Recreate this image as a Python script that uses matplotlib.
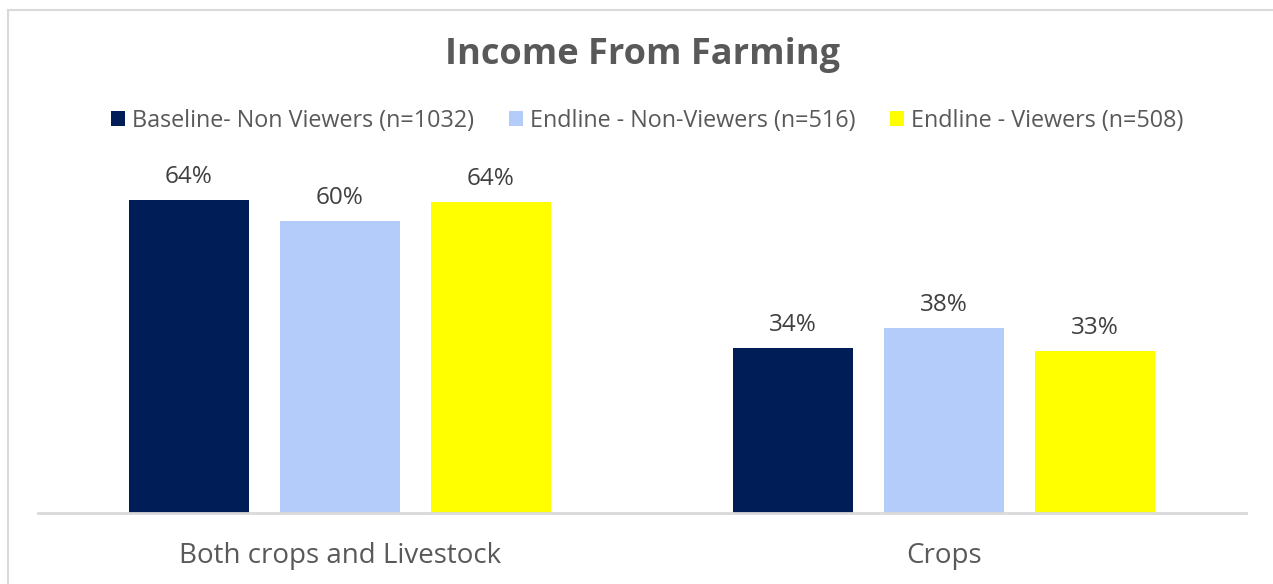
import matplotlib
matplotlib.use("Agg")
import matplotlib.pyplot as plt
from matplotlib.patches import Rectangle, Patch
import numpy as np

categories = ["Both crops and Livestock", "Crops"]
series_names = [
    "Baseline- Non Viewers (n=1032)",
    "Endline - Non-Viewers (n=516)",
    "Endline - Viewers (n=508)",
]
baseline_non_viewers = [64.0, 33.7]
endline_non_viewers = [59.6, 37.8]
endline_viewers = [63.6, 33.1]
series_values = [baseline_non_viewers, endline_non_viewers, endline_viewers]
colors = ["#001D57", "#B4CCFA", "#FFFF00"]

W, H = 1273, 584
fig = plt.figure(figsize=(W / 100, H / 100), dpi=100)
fig.patch.set_facecolor("white")
font = ["Open Sans", "DejaVu Sans"]

# outer chart border
fig.add_artist(Rectangle((8 / W, -0.1), 1.2, (H - 10) / H + 0.1,
                         transform=fig.transFigure, fill=False,
                         edgecolor="#D9D9D9", linewidth=1.5))

ax_left, ax_right = 38, 1246
ax_bottom, ax_top = 513, 170.5
ax = fig.add_axes([ax_left / W, 1 - ax_bottom / H,
                   (ax_right - ax_left) / W, (ax_bottom - ax_top) / H])
ax.set_xlim(-0.5, len(categories) - 0.5)
ax.set_ylim(0, 70)

x = np.arange(len(categories))
offsets = [-0.25, 0.0, 0.25]
for vals, off, col in zip(series_values, offsets, colors):
    bars = ax.bar(x + off, vals, width=0.2, color=col, zorder=2)
    for b, v in zip(bars, vals):
        ax.text(b.get_x() + b.get_width() / 2, v + 2.3, f"{v:.0f}%",
                ha="center", va="bottom", fontsize=17.5, color="#404040",
                family=font)

for s in ["top", "right", "left"]:
    ax.spines[s].set_visible(False)
ax.spines["bottom"].set_color("#D9D9D9")
ax.spines["bottom"].set_linewidth(2)
ax.set_yticks([])
ax.set_xticks(x)
ax.set_xticklabels(categories, fontsize=20, color="#595959", family=font)
ax.tick_params(axis="x", length=0, pad=21)

fig.text(643 / W, 1 - 55 / H, "Income From Farming", ha="center", va="center",
         fontsize=26, fontweight="bold", color="#595959", family=font)

handles = [Patch(facecolor=c, edgecolor="none") for c in colors]
leg = fig.legend(handles, series_names, loc="center", ncol=3,
                 bbox_to_anchor=(647 / W, 1 - 121 / H), frameon=False,
                 prop={"family": font, "size": 16.8}, handlelength=0.6,
                 handleheight=0.6, handletextpad=0.3, columnspacing=1.5)
for t in leg.get_texts():
    t.set_color("#595959")

fig.savefig("out.png", dpi=100)
